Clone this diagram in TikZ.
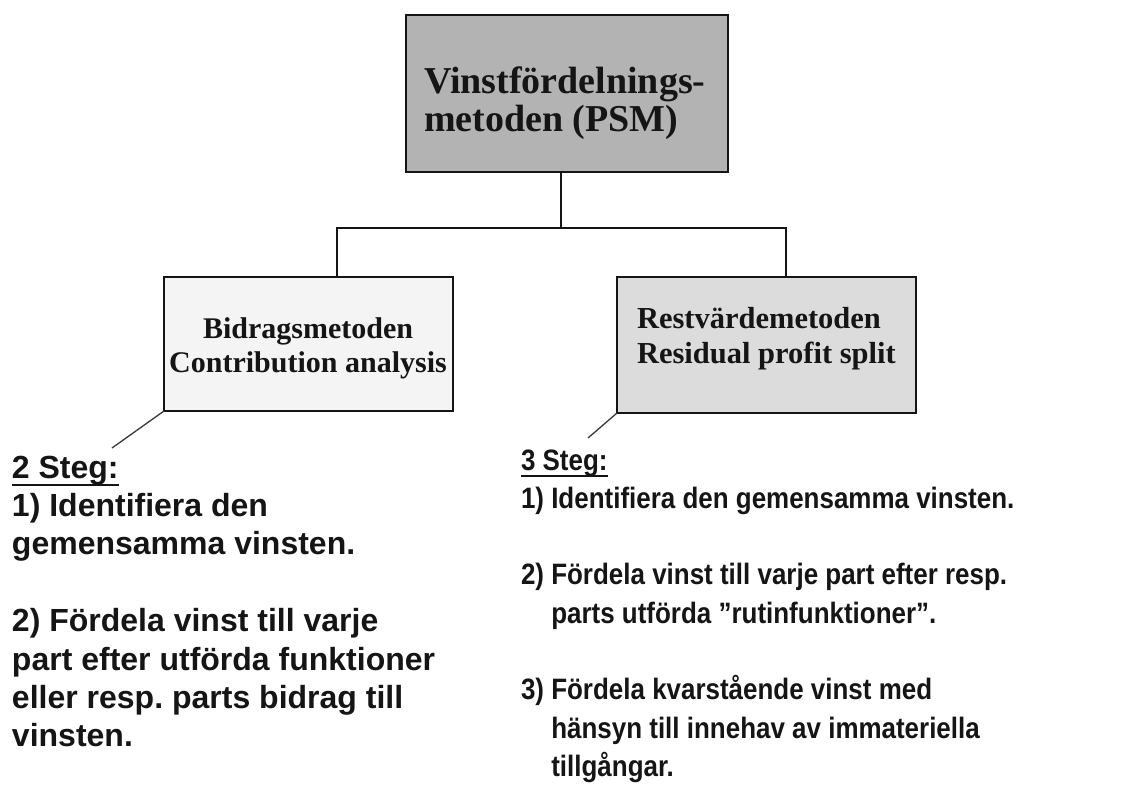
\documentclass[tikz,border=0pt]{standalone}
\usepackage{fontspec}
\setmainfont{Liberation Serif}
\newfontfamily\labelsans{Liberation Sans}
\newfontfamily\narrowsans[FakeStretch=0.88]{Liberation Sans}

\definecolor{ink}{HTML}{151515}
\definecolor{psmgray}{HTML}{B3B3B3}
\definecolor{contribfill}{HTML}{F4F4F4}
\definecolor{residualfill}{HTML}{DCDCDC}

% heading underline: a 2pt rule set #1 below the baseline
\newcommand\headul[2]{\leavevmode\setbox0\hbox{#2}\rlap{\rule[-#1]{\wd0}{2pt}}\box0}

\tikzset{
  box/.style={draw=ink, line width=1.8pt, inner sep=0pt, outer sep=0pt, anchor=north west},
  conn/.style={draw=ink, line width=1.8pt},
  leader/.style={draw=ink!85, line width=1.3pt},
  txt/.style={inner sep=0pt, outer sep=0pt, text=ink}
}

\begin{document}
\begin{tikzpicture}[x=1pt, y=-1pt]
\useasboundingbox (0,0) rectangle (1144,785);

% method boxes
\node[box, fill=psmgray, minimum width=322pt, minimum height=157pt] (psm) at (406,15) {};
\node[box, fill=contribfill, minimum width=289pt, minimum height=134pt] (bid) at (164,277) {};
\node[box, fill=residualfill, minimum width=299pt, minimum height=136pt] (rest) at (617,277) {};

% box captions
\node[txt, anchor=base west] (psmtext) at (424,93)
  {\parbox[t]{300pt}{\bfseries\fontsize{38}{38}\selectfont Vinstfördelnings-\\metoden (PSM)}};
\node[txt, anchor=base] (bidtext) at (308,338)
  {\parbox[t]{290pt}{\centering\bfseries\fontsize{30}{34}\selectfont Bidragsmetoden\\Contribution analysis}};
\node[txt, anchor=base west] (resttext) at (637,328)
  {\parbox[t]{280pt}{\bfseries\fontsize{30.5}{35}\selectfont Restvärdemetoden\\Residual profit split}};

% tree connectors
\coordinate (hl) at (337,228);
\coordinate (hr) at (786,228);
\draw[conn] ([xshift=-6pt]psm.south) -- ([xshift=-6pt]psm.south |- hl);
\draw[conn] (bid.north -| hl) |- (hr) -- (rest.north -| hr);

% step lists
\node[txt, anchor=base west] (steps2) at (12,478)
  {\parbox[t]{470pt}{\raggedright\labelsans\bfseries\fontsize{32}{38.4}\selectfont
   \headul{8pt}{2 Steg:}\\
   1) Identifiera den\\
   gemensamma vinsten.\\
   \mbox{}\\
   2) Fördela vinst till varje\\
   part efter utförda funktioner\\
   eller resp.\ parts bidrag till\\
   vinsten.}};

\node[txt, anchor=base west] (steps3) at (521,470)
  {\parbox[t]{620pt}{\raggedright\narrowsans\bfseries\fontsize{29.5}{38.3}\selectfont
   \headul{7pt}{3 Steg:}\\
   1) Identifiera den gemensamma vinsten.\\
   \mbox{}\\
   2) Fördela vinst till varje part efter resp.\\
   \hphantom{2) }parts utförda ”rutinfunktioner”.\\
   \mbox{}\\
   3) Fördela kvarstående vinst med\\
   \hphantom{3) }hänsyn till innehav av immateriella\\
   \hphantom{3) }tillgångar.}};

% leaders from boxes to their step lists
\coordinate (c2) at (112,448);
\coordinate (c3) at (588,438);
\draw[leader] (bid.south west) -- (c2);
\draw[leader] (rest.south west) -- (c3);
\end{tikzpicture}
\end{document}
